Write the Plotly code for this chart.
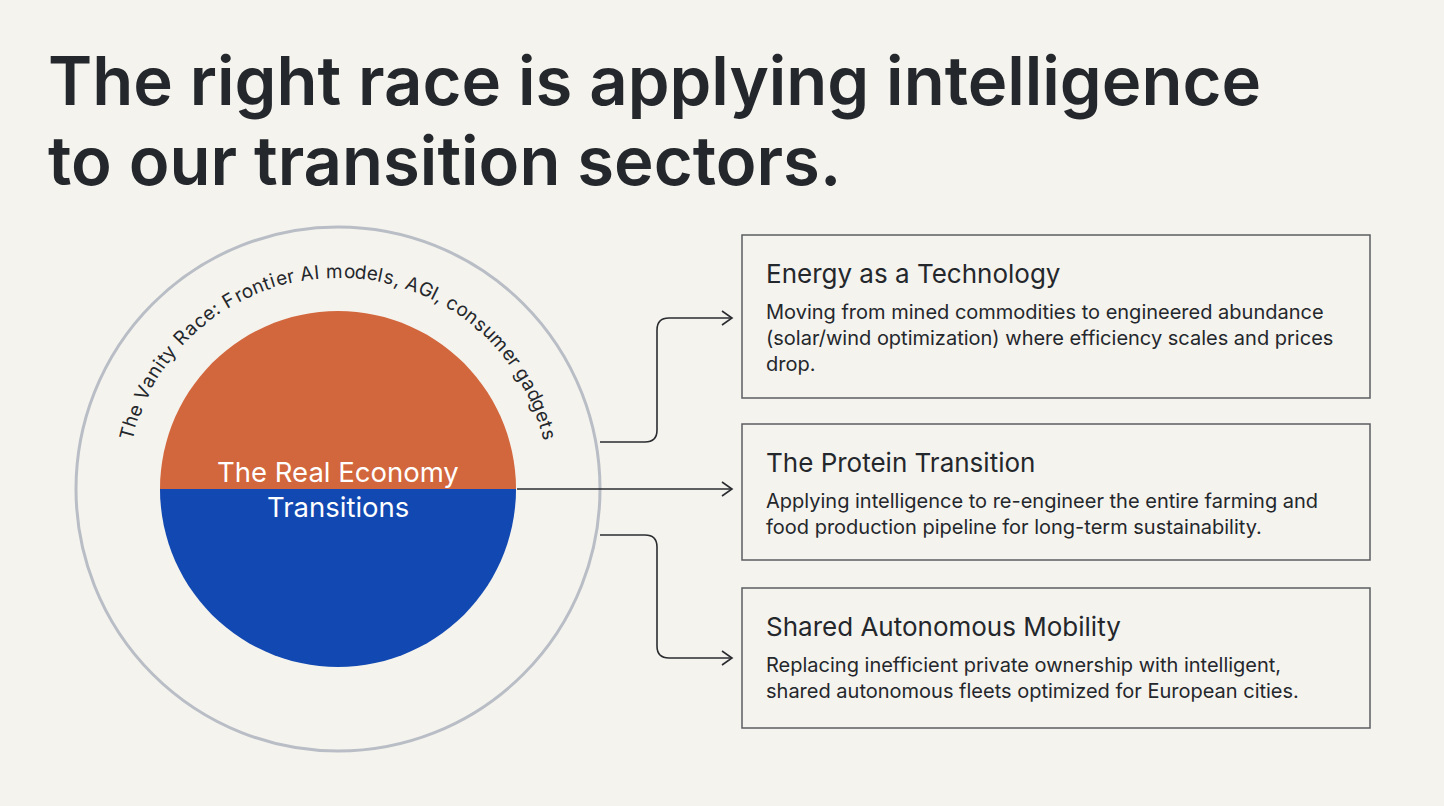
import plotly.graph_objects as go
import math

title_lines = ["The right race is applying intelligence", "to our transition sectors."]
core_lines = ["The Real Economy", "Transitions"]
arc_text = "The Vanity Race: Frontier AI models, AGI, consumer gadgets"
box_titles = ["Energy as a Technology", "The Protein Transition", "Shared Autonomous Mobility"]
box_bodies = [
    ["Moving from mined commodities to engineered abundance",
     "(solar/wind optimization) where efficiency scales and prices",
     "drop."],
    ["Applying intelligence to re-engineer the entire farming and",
     "food production pipeline for long-term sustainability."],
    ["Replacing inefficient private ownership with intelligent,",
     "shared autonomous fleets optimized for European cities."],
]

BG = "#f4f3ee"
DARK = "#24272b"
FONT = "Inter"
W, H = 1444, 806

fig = go.Figure()
shapes = []
ann = []

for i, t in enumerate(title_lines):
    ann.append(dict(x=46, y=80 + i * 80, text=t, xanchor="left", yanchor="middle",
                    showarrow=False, font=dict(family=FONT, size=67, color=DARK, weight=600)))

cx, cy = 338, 489
R_out, R_in = 262, 178
shapes.append(dict(type="circle", x0=cx - R_out, x1=cx + R_out, y0=cy - R_out, y1=cy + R_out,
                   line=dict(color="#b9bdc5", width=3), fillcolor="rgba(0,0,0,0)"))

def half(top):
    pts = []
    n = 60
    for k in range(n + 1):
        a = math.pi * k / n
        x = cx + R_in * math.cos(a)
        y = cy - R_in * math.sin(a) if top else cy + R_in * math.sin(a)
        pts.append(f"{x:.1f},{y:.1f}")
    return "M " + " L ".join(pts) + " Z"

shapes.append(dict(type="path", path=half(True), fillcolor="#d2663c", line=dict(width=0)))
shapes.append(dict(type="path", path=half(False), fillcolor="#1148b1", line=dict(width=0)))

ann.append(dict(x=cx, y=472, text=core_lines[0], showarrow=False,
                font=dict(family=FONT, size=27.5, color="white")))
ann.append(dict(x=cx, y=507, text=core_lines[1], showarrow=False,
                font=dict(family=FONT, size=27.5, color="white")))

def cw(c):
    if c in "il:,.' I": return 0.28
    if c in "tfrj": return 0.36
    if c in "mwMW": return 0.85
    if c.isupper(): return 0.66
    return 0.55
ws = [cw(c) for c in arc_text]
tot = sum(ws)
a0, a1 = 167.0, 13.0
r_arc = 218
acc = 0
for c, w in zip(arc_text, ws):
    frac = (acc + w / 2) / tot
    acc += w
    th = a0 + (a1 - a0) * frac
    x = cx + r_arc * math.cos(math.radians(th))
    y = cy - r_arc * math.sin(math.radians(th))
    if c != " ":
        ann.append(dict(x=x, y=y, text=c, showarrow=False, textangle=90 - th,
                        font=dict(family=FONT, size=19, color=DARK)))

boxes = [(235, 398), (424, 560), (588, 728)]
for (y0, y1), t, body in zip(boxes, box_titles, box_bodies):
    shapes.append(dict(type="rect", x0=742, x1=1370, y0=y0, y1=y1,
                       line=dict(color="#5a5d62", width=1.5), fillcolor="rgba(0,0,0,0)"))
    ann.append(dict(x=764, y=y0 + 38, text=t, xanchor="left", showarrow=False,
                    font=dict(family=FONT, size=26, color=DARK)))
    for j, line in enumerate(body):
        ann.append(dict(x=764, y=y0 + 77 + j * 26, text=line, xanchor="left", showarrow=False,
                        font=dict(family=FONT, size=20, color=DARK)))

lc = dict(color="#2a2c30", width=1.6)
shapes.append(dict(type="path", path="M 600,442 L 645,442 Q 657,442 657,430 L 657,330 Q 657,318 669,318 L 732,318", line=lc))
shapes.append(dict(type="path", path="M 517,489 L 732,489", line=lc))
shapes.append(dict(type="path", path="M 600,535 L 645,535 Q 657,535 657,547 L 657,646 Q 657,658 669,658 L 732,658", line=lc))
for ya in (318, 489, 658):
    shapes.append(dict(type="path", path=f"M 722,{ya-7} L 732,{ya} L 722,{ya+7}", line=lc))

fig.update_layout(
    width=W, height=H, margin=dict(l=0, r=0, t=0, b=0),
    paper_bgcolor=BG, plot_bgcolor=BG,
    xaxis=dict(range=[0, W], visible=False, fixedrange=True),
    yaxis=dict(range=[H, 0], visible=False, fixedrange=True),
    shapes=shapes, annotations=ann, showlegend=False,
)
fig.write_html("out.html", config={"displayModeBar": False},
               post_script="document.body.style.margin='0';document.body.style.overflow='hidden';")
